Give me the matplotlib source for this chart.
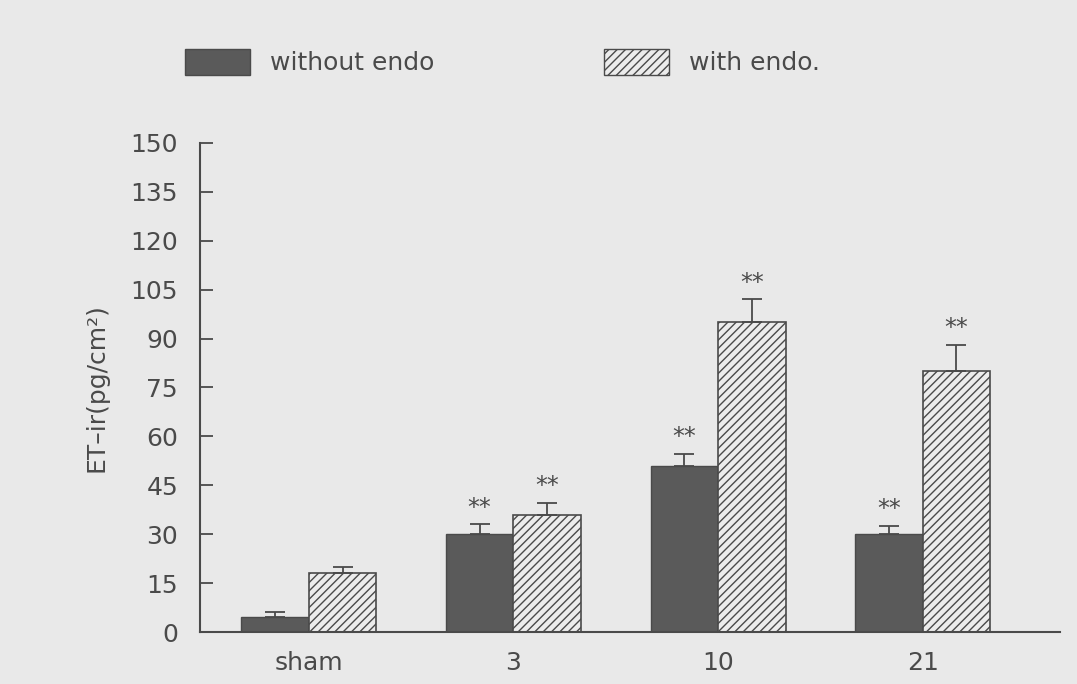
import numpy as np
import matplotlib
matplotlib.use("Agg")
from matplotlib import pyplot as plt
from matplotlib.patches import Patch

# values
groups = ["sham", "3", "10", "21"]
without_endo = [4.5, 30, 51, 30]
without_err = [1.5, 3, 3.5, 2.5]
with_endo = [18, 36, 95, 80]
with_err = [2, 3.5, 7, 8]
stars_without = ["", "**", "**", "**"]
stars_with = ["", "**", "**", "**"]
yticks = [0, 15, 30, 45, 60, 75, 90, 105, 120, 135, 150]

ink = "#4a4a4a"
paper = "#e9e9e9"
plt.rcParams["hatch.color"] = ink
plt.rcParams["hatch.linewidth"] = 1.0

fig = plt.figure(figsize=(10.77, 6.84), dpi=100, facecolor=paper)
ax = fig.add_axes([0.186, 0.076, 0.798, 0.715])
ax.set_facecolor(paper)

x = np.arange(len(groups))
w = 0.33

ax.bar(x - w / 2, without_endo, w, color="#5a5a5a", edgecolor=ink, linewidth=1.0)
ax.bar(x + w / 2, with_endo, w, color="#ececec", edgecolor=ink, linewidth=1.2, hatch="////")

ax.errorbar(x - w / 2, without_endo, yerr=[np.zeros(len(x)), without_err], fmt="none",
            ecolor=ink, elinewidth=1.3, capsize=7, capthick=1.3)
ax.errorbar(x + w / 2, with_endo, yerr=[np.zeros(len(x)), with_err], fmt="none",
            ecolor=ink, elinewidth=1.3, capsize=7, capthick=1.3)

for i in range(len(x)):
    if stars_without[i]:
        ax.text(x[i] - w / 2, without_endo[i] + without_err[i] + 1.5, stars_without[i],
                ha="center", va="bottom", fontsize=17, color=ink)
    if stars_with[i]:
        ax.text(x[i] + w / 2, with_endo[i] + with_err[i] + 1.5, stars_with[i],
                ha="center", va="bottom", fontsize=17, color=ink)

ax.set_xlim(-0.53, 3.67)
ax.set_ylim(0, 150)
ax.set_yticks(yticks)
ax.set_xticks(x)
ax.set_xticklabels(groups)
ax.tick_params(axis="y", direction="in", length=9, width=1.3, colors=ink,
               labelsize=18, pad=16)
ax.tick_params(axis="x", length=0, colors=ink, labelsize=18, pad=14)
for s in ["top", "right"]:
    ax.spines[s].set_visible(False)
for s in ["left", "bottom"]:
    ax.spines[s].set_color(ink)
    ax.spines[s].set_linewidth(1.5)

ax.set_ylabel("ET\u2013ir(pg/cm\u00b2)", fontsize=18, color=ink, labelpad=16)

handles = [Patch(facecolor="#5a5a5a", edgecolor=ink, label="without endo"),
           Patch(facecolor="#ececec", edgecolor=ink, hatch="////", label="with endo.")]
leg = ax.legend(handles=handles, loc="center left", bbox_to_anchor=(-0.044, 1.165), ncol=2,
                frameon=False, fontsize=18, handlelength=2.6, handleheight=1.2,
                columnspacing=6.8, handletextpad=0.8)
for t in leg.get_texts():
    t.set_color(ink)

fig.savefig("out.png", dpi=100, facecolor=paper)
